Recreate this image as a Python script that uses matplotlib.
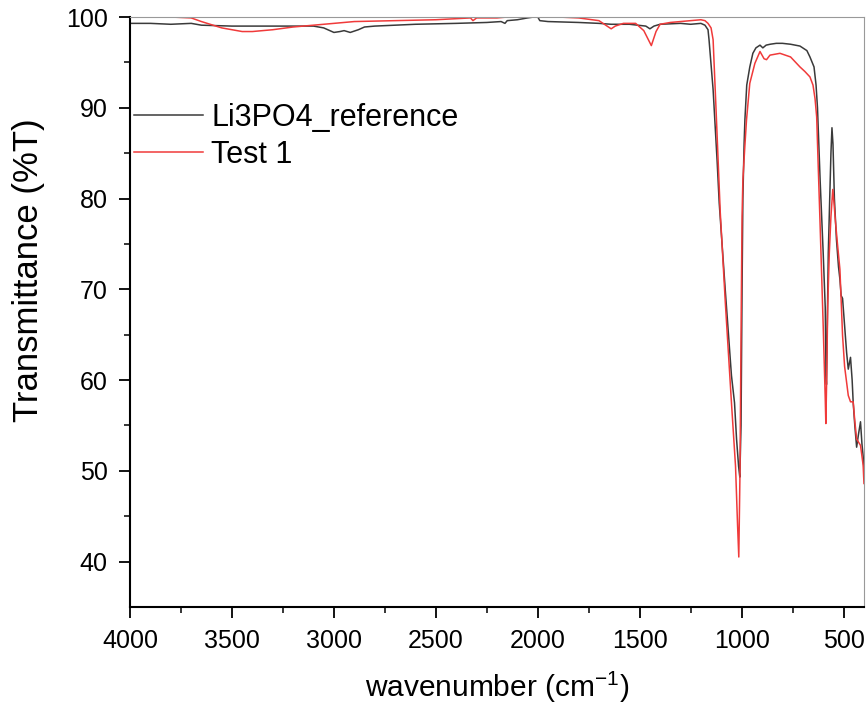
import numpy as np
import matplotlib.pyplot as plt

plt.rcParams['font.family'] = ['Liberation Sans', 'DejaVu Sans']
plt.rcParams['mathtext.fontset'] = 'custom'
plt.rcParams['mathtext.rm'] = 'Liberation Sans'
plt.rcParams['mathtext.it'] = 'Liberation Sans'

# wavenumber (cm-1) and transmittance (%T)
ref_wn = [4000, 3900, 3800, 3700, 3650, 3500, 3300, 3100, 3050, 3000, 2970, 2950,
          2920, 2880, 2850, 2800, 2600, 2400, 2250, 2180, 2161, 2150, 2100, 2050,
          2020, 2000, 1990, 1950, 1800, 1700, 1640, 1550, 1470, 1450, 1430, 1400,
          1300, 1250, 1200, 1180, 1165, 1160, 1140, 1120, 1110, 1080, 1050, 1035,
          1025, 1015, 1009, 1003, 998, 994, 988, 984, 975, 960, 945, 930, 910, 896,
          880, 860, 830, 800, 760, 714, 680, 665, 645, 635, 628, 615, 600, 590,
          586, 584, 580, 575, 568, 562, 557, 552, 545, 535, 525, 518, 512, 505,
          495, 485, 477, 466, 458, 453, 445, 436, 427, 417, 410, 404, 400]
ref_t = [99.3, 99.3, 99.2, 99.3, 99.1, 99.0, 99.0, 99.0, 98.8, 98.3, 98.4, 98.5,
         98.3, 98.6, 98.9, 99.0, 99.2, 99.3, 99.4, 99.5, 99.3, 99.6, 99.7, 99.9,
         100.0, 100.0, 99.6, 99.5, 99.4, 99.3, 99.2, 99.2, 99.0, 98.7, 99.0, 99.2,
         99.3, 99.2, 99.3, 99.1, 98.6, 97.5, 92.0, 84.0, 79.5, 69.8, 60.5, 57.5,
         53.5, 50.5, 49.3, 55.0, 70.0, 80.0, 86.0, 88.7, 92.5, 94.5, 96.0, 96.6,
         96.9, 96.6, 96.9, 97.0, 97.1, 97.1, 97.0, 96.8, 96.3, 95.6, 94.5, 92.5,
         90.0, 82.0, 74.0, 68.0, 60.5, 59.5, 66.0, 74.0, 80.0, 85.0, 87.8, 86.0,
         80.0, 75.5, 72.5, 71.1, 69.3, 69.0, 66.0, 63.0, 61.2, 62.5, 60.0, 57.6,
         55.0, 52.6, 54.0, 55.4, 53.0, 51.6, 50.0]

test_wn = [4000, 3800, 3700, 3650, 3550, 3450, 3400, 3300, 3200, 3100, 3000, 2900,
           2700, 2500, 2330, 2318, 2300, 2200, 2150, 2000, 1900, 1800, 1700, 1660,
           1640, 1620, 1580, 1520, 1480, 1443, 1420, 1400, 1350, 1300, 1250, 1200,
           1180, 1165, 1150, 1140, 1125, 1115, 1105, 1080, 1050, 1030, 1020, 1014,
           1008, 1003, 998, 994, 985, 976, 960, 935, 910, 900, 890, 878, 861, 812,
           760, 714, 690, 665, 650, 640, 632, 625, 615, 600, 590, 587, 583, 578,
           570, 562, 553, 547, 540, 530, 518, 505, 495, 477, 466, 453, 445, 436,
           417, 404, 400]
test_t = [100.0, 100.0, 99.9, 99.5, 98.8, 98.4, 98.4, 98.6, 98.9, 99.1, 99.3, 99.5,
          99.6, 99.7, 99.9, 99.6, 99.9, 99.9, 100.0, 100.0, 100.0, 99.9, 99.6, 99.0,
          98.7, 99.0, 99.3, 99.3, 98.5, 96.85, 98.4, 99.2, 99.4, 99.5, 99.6, 99.7,
          99.6, 99.3, 98.8, 97.5, 89.5, 84.0, 78.5, 68.5, 57.5, 50.5, 44.0, 40.5,
          50.0, 65.0, 78.0, 82.0, 85.5, 88.7, 92.7, 94.9, 96.2, 95.8, 95.4, 95.3,
          95.8, 96.0, 95.6, 94.5, 94.0, 93.4, 92.5, 91.0, 89.0, 84.0, 77.0, 66.0,
          58.0, 55.2, 60.0, 68.0, 74.0, 78.0, 81.0, 79.5, 77.5, 75.0, 72.2, 64.9,
          61.5, 58.3, 57.6, 57.6, 55.5, 53.5, 52.8, 50.6, 48.6]

fig = plt.figure(figsize=(8.67, 7.09), dpi=100)
ax = fig.add_axes([0.150, 0.144, 0.8465, 0.832])

ax.plot(ref_wn, ref_t, color='#3a3a3a', lw=1.1, label='Li3PO4_reference')
ax.plot(test_wn, test_t, color='#f03a3a', lw=1.1, label='Test 1')

ax.set_xlim(4000, 400)
ax.set_ylim(35, 100)
ax.set_xticks(np.arange(4000, 400, -500))
ax.set_xticks(np.arange(3750, 400, -500), minor=True)
ax.set_yticks(np.arange(40, 101, 10))
ax.set_yticks(np.arange(45, 100, 10), minor=True)

for side in ['left', 'bottom']:
    ax.spines[side].set_linewidth(1.5)
    ax.spines[side].set_color('black')
for side in ['top', 'right']:
    ax.spines[side].set_linewidth(0.8)
    ax.spines[side].set_color('#999999')

ax.tick_params(which='major', direction='out', length=8, width=1.3, labelsize=18,
               pad=8, top=False, right=False, colors='black')
ax.tick_params(which='minor', direction='out', length=4, width=1.1,
               top=False, right=False)

ax.set_xlabel('wavenumber (cm$^{-1}$)', fontsize=21.5, va='center')
ax.xaxis.set_label_coords(0.5, -0.137)
ax.set_ylabel('Transmittance (%T)', fontsize=25, va='center')
ax.yaxis.set_label_coords(-0.139, 0.57)

ax.legend(loc='upper left', bbox_to_anchor=(0.0055, 0.855), frameon=False,
          fontsize=22, handlelength=2.25, handletextpad=0.28, borderpad=0,
          borderaxespad=0, labelspacing=0.24)

fig.savefig('out.png', dpi=100)
